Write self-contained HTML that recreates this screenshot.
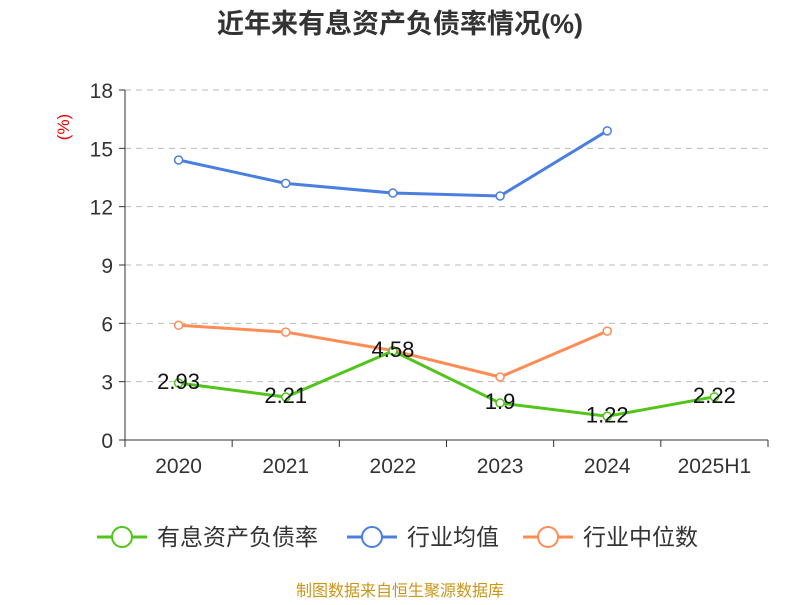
<!DOCTYPE html>
<html><head><meta charset="utf-8"><style>
body{margin:0;background:#fff;}
svg text{font-family:"Liberation Sans","Noto Sans CJK SC",sans-serif;}
</style></head><body>
<svg id="chart" width="800" height="600" xmlns="http://www.w3.org/2000/svg">
<text x="400" y="33" text-anchor="middle" font-size="27" font-weight="bold" fill="#333">近年来有息资产负债率情况(%)</text>
<text x="0" y="0" transform="translate(69,127) rotate(-90)" text-anchor="middle" font-size="17" fill="#e00">(%)</text>
<g id="grid"></g><g id="axes"></g><g id="series"></g>
<g>
<g><line x1="97" y1="537" x2="147" y2="537" stroke="#52c41a" stroke-width="3"/><circle cx="122" cy="537" r="10" fill="#fff" stroke="#52c41a" stroke-width="2"/><text x="157" y="545" font-size="23" fill="#333">有息资产负债率</text></g>
<g><line x1="347" y1="537" x2="397" y2="537" stroke="#4a7fe0" stroke-width="3"/><circle cx="372" cy="537" r="10" fill="#fff" stroke="#4a7fe0" stroke-width="2"/><text x="407" y="545" font-size="23" fill="#333">行业均值</text></g>
<g><line x1="523" y1="537" x2="573" y2="537" stroke="#ff8c55" stroke-width="3"/><circle cx="548" cy="537" r="10" fill="#fff" stroke="#ff8c55" stroke-width="2"/><text x="583" y="545" font-size="23" fill="#333">行业中位数</text></g>
</g>
<text x="400" y="596" text-anchor="middle" font-size="16" fill="#c9961a">制图数据来自恒生聚源数据库</text>
</svg>
<script>
const categories=["2020","2021","2022","2023","2024","2025H1"];
const companyValues=[2.93,2.21,4.58,1.9,1.22,2.22];
const meanValues=[14.4,13.2,12.7,12.55,15.9,null];
const medianValues=[5.9,5.55,4.6,3.24,5.6,null];
const yTicks=[0,3,6,9,12,15,18];
const NS="http://www.w3.org/2000/svg";
const L=125,R=768,T=90,B=440,yMax=18;
const bw=(R-L)/categories.length;
const xs=i=>L+bw*(i+0.5);
const ys=v=>B-(v/yMax)*(B-T);
function mk(tag,attrs,parent){const e=document.createElementNS(NS,tag);for(const k in attrs)e.setAttribute(k,attrs[k]);parent.appendChild(e);return e;}
const grid=document.getElementById('grid'),axes=document.getElementById('axes'),ser=document.getElementById('series');
yTicks.forEach(t=>{
 if(t>0){const g=mk('line',{x1:L,x2:R,y1:ys(t),y2:ys(t),stroke:'#bbb','stroke-dasharray':'6,5'},grid);
 
 }
 const tk=mk('line',{x1:L-6,x2:L,y1:ys(t),y2:ys(t),stroke:'#333'},axes);
 
 
 const lb=mk('text',{x:L-12,y:ys(t)+8,'text-anchor':'end','font-size':21,fill:'#333'},axes);lb.textContent=t;
 
 
});
const ya=mk('line',{x1:L,x2:L,y1:T,y2:B,stroke:'#333'},axes);


const xa=mk('line',{x1:L,x2:R,y1:B,y2:B,stroke:'#333'},axes);


for(let i=0;i<=categories.length;i++){const t=mk('line',{x1:L+bw*i,x2:L+bw*i,y1:B,y2:B+7,stroke:'#333'},axes);
 
 }
categories.forEach((c,i)=>{const t=mk('text',{x:xs(i),y:B+33,'text-anchor':'middle','font-size':21,fill:'#333'},axes);t.textContent=c;
 
 });
function series(vals,color,name,labels){
 const pts=vals.map((v,i)=>v==null?null:[xs(i),ys(v)]).filter(p=>p);
 const p=mk('polyline',{points:pts.map(p=>p.join(',')).join(' '),fill:'none',stroke:color,'stroke-width':3},ser);
 
 
 vals.forEach((v,i)=>{if(v==null)return;
  const c=mk('circle',{cx:xs(i),cy:ys(v),r:4,fill:'#fff',stroke:color,'stroke-width':1.5},ser);
  
  
  if(labels){const t=mk('text',{x:xs(i),y:ys(v)+6,'text-anchor':'middle','font-size':22,fill:'#111'},ser);t.textContent=v;
   
   }
 });
}
series(meanValues,'#4a7fe0','industry-mean',false);
series(medianValues,'#ff8c55','industry-median',false);
series(companyValues,'#52c41a','company',true);
</script>
</body></html>
